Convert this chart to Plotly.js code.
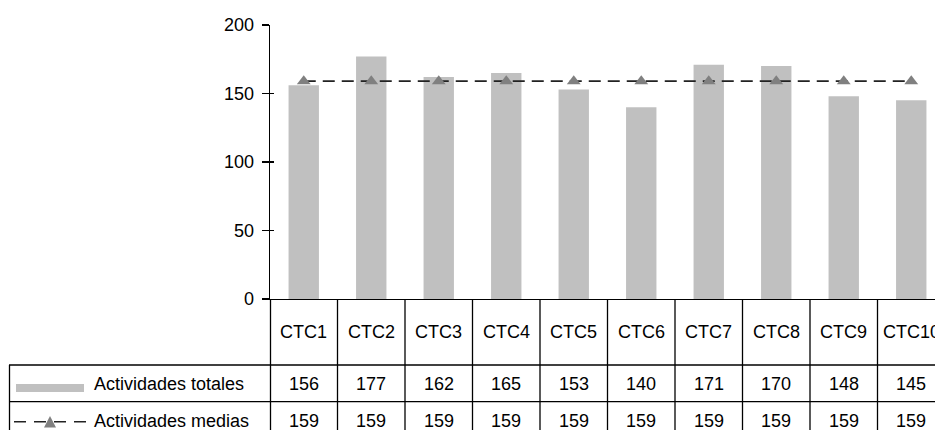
<!DOCTYPE html>
<html>
<head>
<meta charset="utf-8">
<script src="https://cdn.plot.ly/plotly-3.0.1.min.js"></script>
<style>html,body{margin:0;padding:0;background:#fff;}#chart{width:935px;height:430px;}</style>
</head>
<body>
<div id="chart"></div>
<script>
const categories = ["CTC1","CTC2","CTC3","CTC4","CTC5","CTC6","CTC7","CTC8","CTC9","CTC10"];
const totales = [156,177,162,165,153,140,171,170,148,145];
const medias = [159,159,159,159,159,159,159,159,159,159];
const seriesNames = ["Actividades totales","Actividades medias"];
const yTicks = [0,50,100,150,200];

const FW = 935, FH = 430;
const L = 270, T = 25, W = FW - L, H = 274;
const px = x => (x - L) / W;
const py = y => (T + H - y) / H;
const FONT = {family: "Liberation Sans, Arial, sans-serif", size: 18, color: "#000"};
const colW = 67.5;

const traces = [
  {type: "bar", x: categories, y: totales, name: seriesNames[0],
   marker: {color: "#c0c0c0", line: {width: 0}}, width: 0.45, hoverinfo: "skip"},
  {type: "scatter", mode: "lines+markers", x: categories, y: medias, name: seriesNames[1], yaxis: "y2",
   line: {color: "#222", width: 1.6, dash: "12px,7px"},
   marker: {symbol: "triangle-up", size: 12, color: "#808080"}, hoverinfo: "skip"}
];

const shapes = [];
const annotations = [];
const lineStyle = {color: "#000", width: 1.3};

// horizontal table lines
[365, 401.7].forEach(yy => shapes.push({type: "line", xref: "paper", yref: "paper",
  x0: px(9), x1: 1.02, y0: py(yy), y1: py(yy), line: lineStyle}));
// left border of legend column
shapes.push({type: "line", xref: "paper", yref: "paper", x0: px(9.5), x1: px(9.5),
  y0: py(365), y1: py(440), line: lineStyle});
// left border of data area (continuation of y axis)
shapes.push({type: "line", xref: "paper", yref: "paper", x0: px(270.5), x1: px(270.5),
  y0: py(299), y1: py(440), line: lineStyle});
// column dividers
for (let i = 1; i < categories.length; i++) {
  shapes.push({type: "line", xref: "x", yref: "paper", x0: i - 0.5, x1: i - 0.5,
    y0: py(299), y1: py(440), line: lineStyle});
}
// legend swatches
shapes.push({type: "rect", xref: "paper", yref: "paper", x0: px(16), x1: px(84),
  y0: py(392), y1: py(384), fillcolor: "#c0c0c0", line: {width: 0}});
shapes.push({type: "line", xref: "paper", yref: "paper", x0: px(14), x1: px(87),
  y0: py(421.7), y1: py(421.7), line: {color: "#222", width: 1.6, dash: "12px,8px"}});
shapes.push({type: "path", xref: "paper", yref: "paper",
  path: `M ${px(50)},${py(416)} L ${px(56)},${py(427.5)} L ${px(44)},${py(427.5)} Z`,
  fillcolor: "#808080", line: {width: 0}});

// table texts
categories.forEach((c, i) => {
  annotations.push({xref: "x", yref: "paper", x: i, y: py(332), text: c, showarrow: false,
    xanchor: "center", yanchor: "middle", font: FONT});
  annotations.push({xref: "x", yref: "paper", x: i, y: py(384), text: String(totales[i]), showarrow: false,
    xanchor: "center", yanchor: "middle", font: FONT});
  annotations.push({xref: "x", yref: "paper", x: i, y: py(421), text: String(medias[i]), showarrow: false,
    xanchor: "center", yanchor: "middle", font: FONT});
});
annotations.push({xref: "paper", yref: "paper", x: px(92), y: py(384), text: seriesNames[0],
  showarrow: false, xanchor: "left", yanchor: "middle", font: FONT});
annotations.push({xref: "paper", yref: "paper", x: px(92), y: py(421), text: seriesNames[1],
  showarrow: false, xanchor: "left", yanchor: "middle", font: FONT});

const layout = {
  width: FW, height: FH,
  margin: {l: L, r: 0, t: T, b: FH - T - H, pad: 0},
  paper_bgcolor: "#fff", plot_bgcolor: "#fff",
  showlegend: false,
  font: FONT,
  xaxis: {type: "category", range: [-0.5, -0.5 + W / colW], showticklabels: false, ticks: "",
    showgrid: false, zeroline: false, showline: true, linecolor: "#000", linewidth: 1.3, fixedrange: true},
  yaxis: {range: [0, 200], tickvals: yTicks, ticks: "outside", ticklen: 7, tickwidth: 1.3, tickcolor: "#000",
    showgrid: false, zeroline: false, showline: true, linecolor: "#000", linewidth: 1.3,
    tickfont: FONT, ticklabelstandoff: 4, fixedrange: true},
  yaxis2: {range: [0, 200], overlaying: "y", side: "left", anchor: "x", tickvals: yTicks,
    ticks: "inside", ticklen: 4, tickwidth: 1.3, tickcolor: "#000", showticklabels: false,
    showgrid: false, zeroline: false, showline: false, fixedrange: true},
  bargap: 0.55,
  shapes: shapes,
  annotations: annotations
};

Plotly.newPlot("chart", traces, layout, {staticPlot: true, displayModeBar: false});
</script>
</body>
</html>
